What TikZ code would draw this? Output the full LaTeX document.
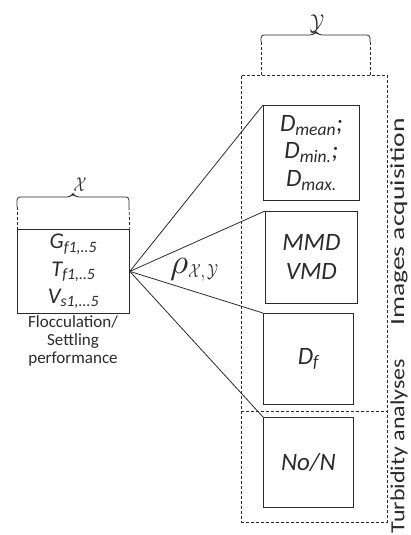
\documentclass[tikz,border=0pt]{standalone}
\usepackage{fontspec}
\setmainfont{Carlito}
\usepackage{graphicx}
\definecolor{ink}{HTML}{2B2B2B}
\tikzset{
  ln/.style={line width=0.8pt, draw=ink},
  dsh/.style={line width=0.8pt, draw=ink, dash pattern=on 3pt off 2pt},
  mbox/.style={ln, rectangle, inner sep=0pt, anchor=north west, align=center,
    text=ink, font=\fontsize{25}{27.5}\selectfont\itshape},
  caption text/.style={align=center, text=ink, inner sep=0pt, font=\fontsize{17}{18}\selectfont},
  side/.style={rotate=90, inner sep=0pt, text=ink, font=\fontsize{20}{20}\selectfont},
  brace/.style={line width=0.8pt, draw=ink, rounded corners=3pt},
  sym/.style={inner sep=0pt, text=ink},
}
\begin{document}
\begin{tikzpicture}[x=1pt, y=-1pt]
\useasboundingbox (0,0) rectangle (410,535);

% input variables
\node[mbox, minimum width=112, minimum height=84, font=\fontsize{22.5}{27.5}\selectfont\itshape] (src) at (17,229)
  {G\textsubscript{f1,..5}\\T\textsubscript{f1,..5}\\V\textsubscript{s1,...5}};
\node[caption text, anchor=north] (perf) at (73,315) {Flocculation/\\Settling\\performance};

% brace over the inputs
\coordinate (xl) at (17,207);
\coordinate (xr) at (129,207);
\draw[brace] (xl) -- (17,197) -- (70,197) -- (73,193.5) -- (76,197) -- (129,197) -- (xr);
\draw[dsh] (xl) -- (src.north west);
\draw[dsh] (xr) -- (src.north east);
\node[sym] (xlab) at (80,185) {\scalebox{1.5}[2.0]{$\mathcal{X}$}};

% output group
\node[dsh, rectangle, inner sep=0pt, anchor=north west, minimum width=146, minimum height=447] (grp) at (241,75) {};
\coordinate (divl) at (241,411);
\coordinate (divr) at (387,411);
\draw[dsh] (divl) -- (divr);

% brace over the outputs
\coordinate (yl) at (261,42);
\coordinate (yr) at (370,42);
\coordinate (yl0) at (261,75);
\coordinate (yr0) at (370,75);
\draw[brace] (yl) -- (261,35) -- (313,35) -- (316,31.5) -- (319,35) -- (370,35) -- (yr);
\draw[dsh] (yl) -- (yl0);
\draw[dsh] (yr) -- (yr0);
\node[sym, anchor=south] (ylab) at (317,33) {\scalebox{1.9}[2.3]{$\mathcal{Y}$}};

% output measures
\node[mbox, minimum width=96, minimum height=95] (b1) at (263,105)
  {D\textsubscript{mean};\\D\textsubscript{min.};\\D\textsubscript{max.}};
\node[mbox, minimum width=92, minimum height=92, font=\fontsize{25}{29}\selectfont\itshape] (b2) at (265,211) {MMD\\VMD};
\node[mbox, minimum width=90, minimum height=91] (b3) at (263,313) {D\textsubscript{f}};
\node[mbox, minimum width=90, minimum height=90] (b4) at (263,417) {No/N};

% correlation links
\draw[ln] (src.east) -- (b1.north west);
\draw[ln] (src.east) -- (b2.north west);
\draw[ln] (src.east) -- (b3.north west);
\draw[ln] (src.east) -- (b4.north west);
\node[sym, anchor=west] (rho) at (170,270)
  {\scalebox{3.5}{$\rho$}\raisebox{-4pt}{\scalebox{1.45}[1.9]{$\mathcal{X},\mathcal{Y}$}}};

% group captions
\node[side] (acq) at (399,222) {\scalebox{1.38}[1]{Images acquisition}};
\node[side] (turb) at (399,446) {\scalebox{1.2}[1]{Turbidity analyses}};
\end{tikzpicture}
\end{document}
